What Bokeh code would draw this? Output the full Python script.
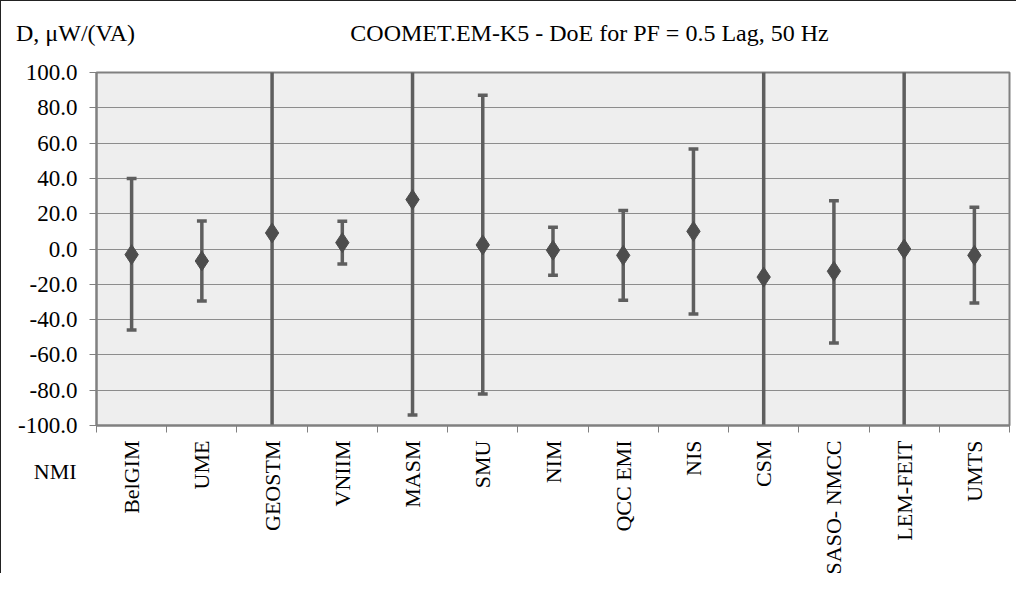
import math
from bokeh.plotting import figure
from bokeh.models import FixedTicker, ColumnDataSource, Range1d, LinearAxis
from bokeh.embed import file_html
from bokeh.resources import INLINE

# ---- data ----
nmi = ["BelGIM", "UME", "GEOSTM", "VNIIM", "MASM", "SMU", "NIM",
       "QCC EMI", "NIS", "CSM", "SASO- NMCC", "LEM-FEIT", "UMTS"]
doe = [-3.2, -6.8, 9.1, 3.6, 28.0, 2.3, -0.7, -3.6, 10.0, -15.9, -12.6, 0.0, -3.6]
upper = [40.0, 15.9, 300.0, 15.7, 300.0, 87.1, 12.3, 21.8, 56.7, 300.0, 27.4, 300.0, 23.6]
lower = [-45.9, -29.5, -300.0, -8.5, -94.0, -82.2, -14.9, -29.1, -36.8, -300.0, -53.3, -300.0, -30.6]
y_ticks = [-100, -80, -60, -40, -20, 0, 20, 40, 60, 80, 100]
title_text = "COOMET.EM-K5 - DoE for PF = 0.5 Lag, 50 Hz"
unit_text = "D, μW/(VA)"
xaxis_name = "NMI"

FONT = "Liberation Serif"
NBSP = "\u00a0"
x = [i + 0.5 for i in range(len(nmi))]

p = figure(width=1016, height=573, output_backend="svg", toolbar_location=None,
           title=None,
           x_range=Range1d(0, len(nmi)), y_range=Range1d(-100, 100),
           min_border_left=95, min_border_right=8, min_border_top=71, min_border_bottom=149)

p.background_fill_color = "#EEEEEE"
p.border_fill_color = "white"
p.outline_line_color = "#808080"
p.outline_line_width = 2
p.styles = {"border-left": "1px solid #222", "border-top": "1px solid #222"}

# bottom axis: categories between boundary ticks
p.xaxis.ticker = FixedTicker(ticks=x, minor_ticks=list(range(len(nmi) + 1)))
p.xaxis.major_label_overrides = {v: n for v, n in zip(x, nmi)}
p.xaxis.major_label_orientation = math.pi / 2
p.xaxis.major_tick_line_color = None
p.xaxis.major_tick_out = 0
p.xaxis.major_tick_in = 0
p.xaxis.minor_tick_line_color = "#808080"
p.xaxis.minor_tick_line_width = 1
p.xaxis.minor_tick_out = 7
p.xaxis.minor_tick_in = 0
p.xaxis.axis_line_color = "#808080"
p.xaxis.axis_line_width = 2
p.xaxis.major_label_text_font = FONT
p.xaxis.major_label_text_font_size = "22px"
p.xaxis.major_label_text_color = "black"
p.xaxis.major_label_standoff = 8
# "NMI" as the axis name, moved up beside the category labels (padded to sit at the left)
p.xaxis.axis_label = xaxis_name + NBSP * 181
p.xaxis.axis_label_text_font = FONT
p.xaxis.axis_label_text_font_size = "22px"
p.xaxis.axis_label_text_font_style = "normal"
p.xaxis.axis_label_text_color = "black"
p.xaxis.axis_label_standoff = -118

p.yaxis.ticker = FixedTicker(ticks=y_ticks)
p.yaxis.major_label_overrides = {v: f"{v:.1f}" for v in y_ticks}
p.yaxis.minor_tick_line_color = None
p.yaxis.major_tick_in = 0
p.yaxis.major_tick_out = 7
p.yaxis.major_tick_line_color = "#808080"
p.yaxis.axis_line_color = "#808080"
p.yaxis.axis_line_width = 2
p.yaxis.major_label_text_font = FONT
p.yaxis.major_label_text_font_size = "23px"
p.yaxis.major_label_text_color = "black"
p.yaxis.major_label_standoff = 12

p.xgrid.grid_line_color = None
p.ygrid.ticker = FixedTicker(ticks=y_ticks)
p.ygrid.grid_line_color = "#8C8C8C"
p.ygrid.grid_line_width = 1

# top "axis" carrying the unit label and the chart title
top = LinearAxis(ticker=FixedTicker(ticks=[0.001, 7.02]),
                 major_label_overrides={0.001: unit_text + NBSP * 7, 7.02: title_text},
                 axis_line_color=None, major_tick_line_color=None, minor_tick_line_color=None,
                 major_tick_out=0, major_tick_in=0, minor_tick_out=0, minor_tick_in=0,
                 major_label_standoff=27, major_label_text_font=FONT,
                 major_label_text_font_size="24px", major_label_text_color="black")
p.add_layout(top, "above")

src = ColumnDataSource(dict(x=x, y=doe, up=upper, lo=lower,
                            xl=[v - 0.07 for v in x], xr=[v + 0.07 for v in x]))

bar_col = "#5E5E5E"
p.segment(x0="x", y0="lo", x1="x", y1="up", source=src, line_color=bar_col, line_width=3.5)
p.segment(x0="xl", y0="up", x1="xr", y1="up", source=src, line_color=bar_col, line_width=3.5)
p.segment(x0="xl", y0="lo", x1="xr", y1="lo", source=src, line_color=bar_col, line_width=3.5)
p.scatter(x="x", y="y", source=src, marker="diamond", size=20,
          fill_color="#4D4D4D", line_color="#4D4D4D")

open("out.html", "w").write(file_html(p, INLINE))
